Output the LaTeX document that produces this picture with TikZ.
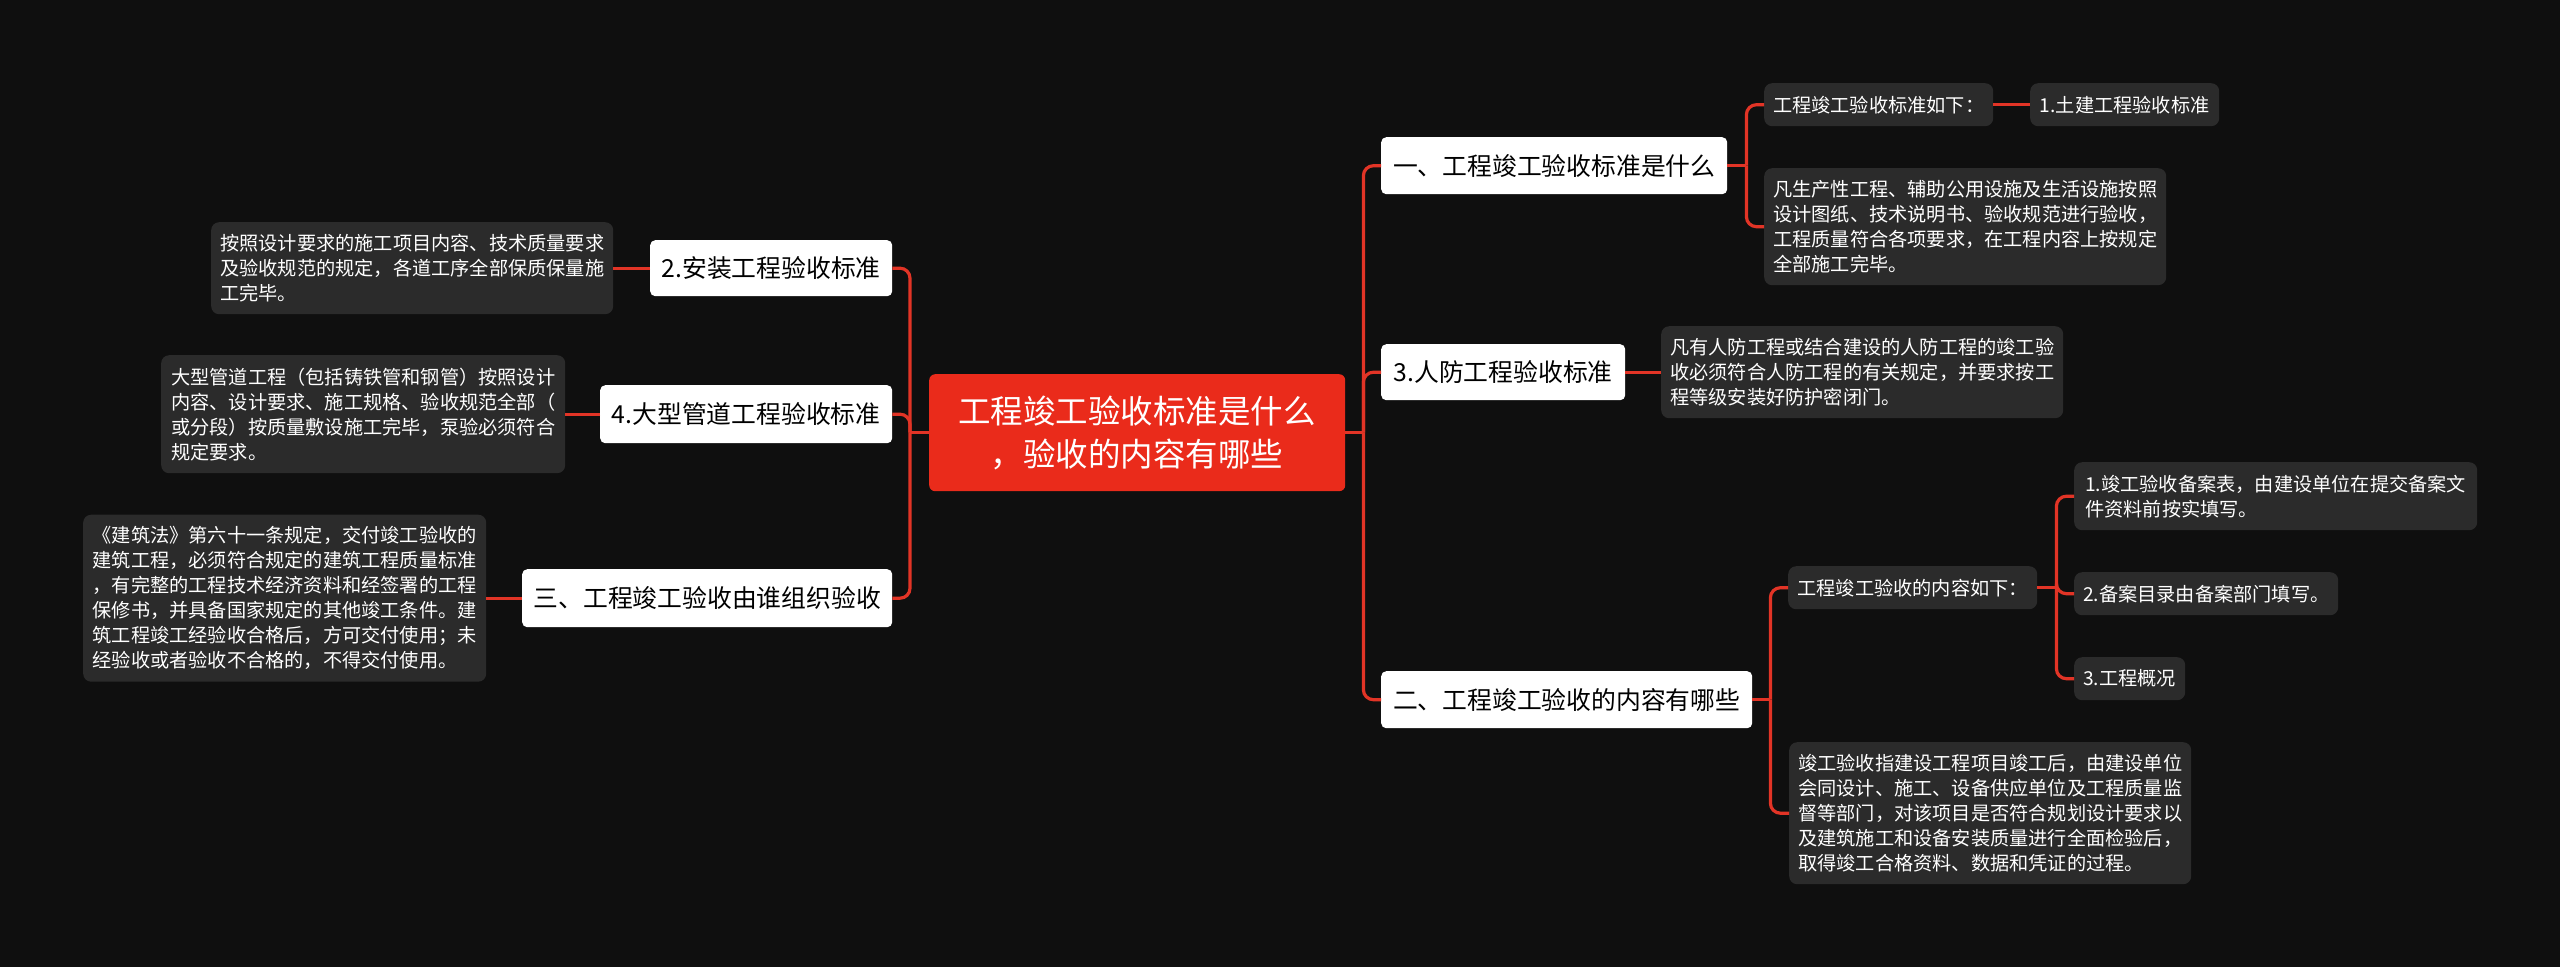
\documentclass[tikz,border=0pt]{standalone}
\usepackage{fontspec}
\setmainfont{Noto Sans CJK SC}
\usepackage{xcolor}
\usepackage{tikz}
\usetikzlibrary{positioning}
\definecolor{bgdark}{RGB}{15,15,15}
\definecolor{rootred}{RGB}{234,43,27}
\definecolor{linkred}{RGB}{226,52,38}
\definecolor{leafgray}{RGB}{43,43,43}
\tikzset{
  rootbox/.style={rectangle, rounded corners=6pt, fill=rootred, text=white, align=center, inner sep=0pt, font=\fontsize{32.5}{43}\selectfont},
  topic/.style={rectangle, rounded corners=5pt, fill=white, text=black, align=center, inner sep=0pt, font=\fontsize{24.8}{30}\selectfont},
  leaf/.style={rectangle, rounded corners=8pt, fill=leafgray, text=white, align=left, inner sep=0pt, font=\fontsize{19.2}{25}\selectfont},
  link/.style={draw=linkred, line width=3.2pt, rounded corners=10pt}
}

\begin{document}
\begin{tikzpicture}[x=1pt, y=-1pt, every node/.style={anchor=north west}]
\fill[bgdark] (0,0) rectangle (2560,967);
% centre
\node[rootbox, minimum width=416pt, minimum height=117pt] (root) at (929,374) {工程竣工验收标准是什么\\，验收的内容有哪些};
% right branch
\node[topic, minimum width=346pt, minimum height=57pt] (r1) at (1381,137) {一、工程竣工验收标准是什么};
\node[leaf, minimum width=229pt, minimum height=43pt] (r1a) at (1764,83) {工程竣工验收标准如下：};
\node[leaf, minimum width=189pt, minimum height=43pt] (r1b) at (2030,83) {1.土建工程验收标准};
\node[leaf, minimum width=402pt, minimum height=117pt] (r1c) at (1764,168) {凡生产性工程、辅助公用设施及生活设施按照\\设计图纸、技术说明书、验收规范进行验收，\\工程质量符合各项要求，在工程内容上按规定\\全部施工完毕。};
\node[topic, minimum width=244pt, minimum height=56pt] (r2) at (1381,344) {3.人防工程验收标准};
\node[leaf, minimum width=402pt, minimum height=92pt] (r2a) at (1661,326) {凡有人防工程或结合建设的人防工程的竣工验\\收必须符合人防工程的有关规定，并要求按工\\程等级安装好防护密闭门。};
\node[topic, minimum width=371pt, minimum height=57pt] (r3) at (1381,671) {二、工程竣工验收的内容有哪些};
\node[leaf, minimum width=249pt, minimum height=43pt] (r3a) at (1788,566) {工程竣工验收的内容如下：};
\node[leaf, minimum width=403pt, minimum height=68pt] (r3a1) at (2074,462) {1.竣工验收备案表，由建设单位在提交备案文\\件资料前按实填写。};
\node[leaf, minimum width=264pt, minimum height=43pt] (r3a2) at (2074,572) {2.备案目录由备案部门填写。};
\node[leaf, minimum width=111pt, minimum height=43pt] (r3a3) at (2074,657) {3.工程概况};
\node[leaf, minimum width=402pt, minimum height=142pt] (r3b) at (1789,742) {竣工验收指建设工程项目竣工后，由建设单位\\会同设计、施工、设备供应单位及工程质量监\\督等部门，对该项目是否符合规划设计要求以\\及建筑施工和设备安装质量进行全面检验后，\\取得竣工合格资料、数据和凭证的过程。};
% left branch
\node[topic, minimum width=242pt, minimum height=56pt] (l1) at (650,240) {2.安装工程验收标准};
\node[leaf, minimum width=402pt, minimum height=92pt] (l1a) at (211,222) {按照设计要求的施工项目内容、技术质量要求\\及验收规范的规定，各道工序全部保质保量施\\工完毕。};
\node[topic, minimum width=292pt, minimum height=58pt] (l2) at (600,385) {4.大型管道工程验收标准};
\node[leaf, minimum width=404pt, minimum height=118pt] (l2a) at (161,355) {大型管道工程（包括铸铁管和钢管）按照设计\\内容、设计要求、施工规格、验收规范全部（\\或分段）按质量敷设施工完毕，泵验必须符合\\规定要求。};
\node[topic, minimum width=370pt, minimum height=58pt] (l3) at (522,569) {三、工程竣工验收由谁组织验收};
\node[leaf, minimum width=403pt, minimum height=167pt] (l3a) at (83,514.5) {《建筑法》第六十一条规定，交付竣工验收的\\建筑工程，必须符合规定的建筑工程质量标准\\，有完整的工程技术经济资料和经签署的工程\\保修书，并具备国家规定的其他竣工条件。建\\筑工程竣工经验收合格后，方可交付使用；未\\经验收或者验收不合格的，不得交付使用。};
% junctions
\coordinate (rj) at ([xshift=18pt]root.east);
\coordinate (lj) at ([xshift=-19pt]root.west);
\coordinate (r1j) at ([xshift=19pt]r1.east);
\coordinate (r3j) at ([xshift=18pt]r3.east);
\coordinate (r3aj) at ([xshift=19pt]r3a.east);
% connectors
\draw[link] (root.east) -- (rj);
\foreach \n in {r1,r2,r3} \draw[link] (rj) |- (\n.west);
\draw[link] (root.west) -- (lj);
\foreach \n in {l1,l2,l3} \draw[link] (lj) |- (\n.east);
\draw[link] (r1.east) -- (r1j);
\foreach \n in {r1a,r1c} \draw[link] (r1j) |- (\n.west);
\draw[link] (r1a) -- (r1b);
\draw[link] (r2) -- (r2a);
\draw[link] (r3.east) -- (r3j);
\foreach \n in {r3a,r3b} \draw[link] (r3j) |- (\n.west);
\draw[link] (r3a.east) -- (r3aj);
\foreach \n in {r3a1,r3a2,r3a3} \draw[link] (r3aj) |- (\n.west);
\draw[link] (l1) -- (l1a);
\draw[link] (l2) -- (l2a);
\draw[link] (l3) -- (l3a);
\end{tikzpicture}
\end{document}
